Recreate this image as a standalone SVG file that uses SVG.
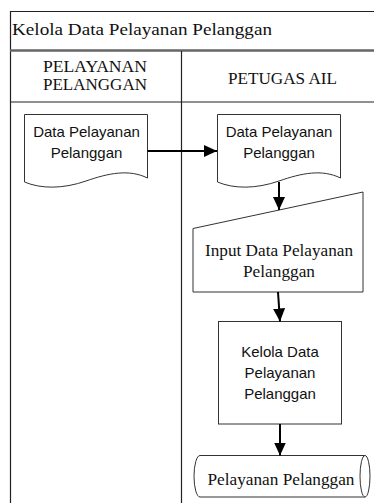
<svg xmlns="http://www.w3.org/2000/svg" width="374" height="503" viewBox="0 0 374 503">
  <defs>
    <marker id="arrow" markerWidth="14" markerHeight="12" refX="13" refY="6" orient="auto" markerUnits="userSpaceOnUse">
      <path d="M0,0 L13,6 L0,12 Z" fill="#000"/>
    </marker>
    <style>
      .frame { fill: none; stroke: #222; stroke-width: 1.2; }
      .sep { fill: none; stroke: #666; stroke-width: 2.5; }
      .shape { fill: #fff; stroke: #333; stroke-width: 1; }
      .serif { font-family: "Liberation Serif", "Times New Roman", serif; font-size: 17px; fill: #111; }
      .sans { font-family: "Liberation Sans", Arial, sans-serif; font-size: 15px; fill: #111; }
      .mid { text-anchor: middle; }
      .flow { fill: none; stroke: #000; stroke-width: 2; marker-end: url(#arrow); }
    </style>
  </defs>

  <rect width="374" height="503" fill="#fff"/>

  <!-- swimlane frame -->
  <g id="pool">
    <path class="frame" d="M10.5,503 V11.5 H374"/>
    <line class="sep" x1="10" y1="50.5" x2="374" y2="50.5"/>
    <line class="frame" x1="181.5" y1="51" x2="181.5" y2="503"/>
    <line class="frame" x1="10" y1="102" x2="374" y2="102"/>
    <text class="serif" x="12" y="35" textLength="260" lengthAdjust="spacingAndGlyphs">Kelola Data Pelayanan Pelanggan</text>
  </g>

  <g id="lane-pelayanan">
    <text class="serif mid" x="95" y="72" textLength="104" lengthAdjust="spacingAndGlyphs">PELAYANAN</text>
    <text class="serif mid" x="95" y="89.5" textLength="104" lengthAdjust="spacingAndGlyphs">PELANGGAN</text>
  </g>

  <g id="lane-petugas">
    <text class="serif mid" x="282.5" y="83.5" textLength="109" lengthAdjust="spacingAndGlyphs">PETUGAS AIL</text>
  </g>

  <!-- documents -->
  <g id="doc-pelanggan">
    <path class="shape" d="M24.5,114.5 H147.5 V178 C129,169 109,173 86,181 C63,189 41,189 24.5,182 Z"/>
    <text class="sans mid" x="86.5" y="137">Data Pelayanan</text>
    <text class="sans mid" x="86.5" y="157.5">Pelanggan</text>
  </g>

  <g id="doc-petugas">
    <path class="shape" d="M217.5,114.5 H340.5 V178 C322,169 302,173 279,181 C256,189 234,189 217.5,182 Z"/>
    <text class="sans mid" x="279" y="137">Data Pelayanan</text>
    <text class="sans mid" x="279" y="157.5">Pelanggan</text>
  </g>

  <!-- manual input -->
  <g id="input-data">
    <path class="shape" d="M193,228.5 L363,192 V292 H193 Z"/>
    <text class="serif mid" x="279" y="256" textLength="148" lengthAdjust="spacingAndGlyphs">Input Data Pelayanan</text>
    <text class="serif mid" x="279" y="277" textLength="72" lengthAdjust="spacingAndGlyphs">Pelanggan</text>
  </g>

  <!-- process -->
  <g id="kelola-data">
    <rect class="shape" x="218.5" y="321.5" width="123" height="102.5"/>
    <text class="sans mid" x="280" y="357">Kelola Data</text>
    <text class="sans mid" x="280" y="378">Pelayanan</text>
    <text class="sans mid" x="280" y="398.5">Pelanggan</text>
  </g>

  <!-- stored data -->
  <g id="stored-data">
    <path class="shape" d="M200,455.5 H365 A5,20.75 0 0 1 365,497 H200 A6,20.75 0 0 1 200,455.5 Z"/>
    <path class="shape" fill="none" d="M365,455.5 A5,20.75 0 0 0 365,497"/>
    <text class="serif mid" x="281" y="485" textLength="147" lengthAdjust="spacingAndGlyphs">Pelayanan Pelanggan</text>
  </g>

  <!-- connectors -->
  <g id="connectors">
    <line class="flow" x1="147.5" y1="151" x2="217" y2="151"/>
    <line class="flow" x1="279" y1="182" x2="279" y2="210"/>
    <line class="flow" x1="278" y1="292" x2="280" y2="321.5"/>
    <line class="flow" x1="280" y1="424" x2="280" y2="455.5"/>
  </g>
</svg>
